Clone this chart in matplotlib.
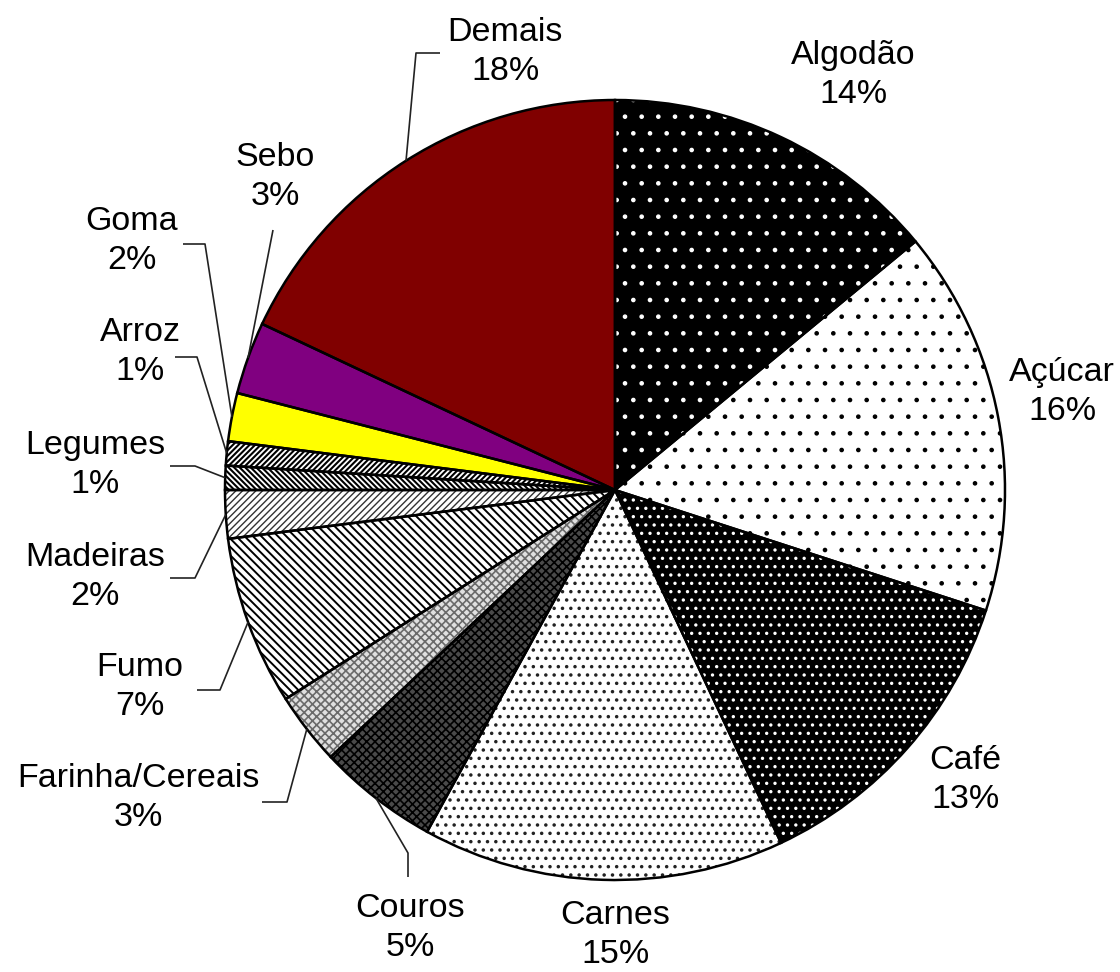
import matplotlib
matplotlib.use("Agg")
import matplotlib.pyplot as plt
import numpy as np

# Export shares (%)
categories = ["Algodão", "Açúcar", "Café", "Carnes", "Couros", "Farinha/Cereais",
              "Fumo", "Madeiras", "Legumes", "Arroz", "Goma", "Sebo", "Demais"]
shares = [14, 16, 13, 15, 5, 3, 7, 2, 1, 1, 2, 3, 18]

# Fill style per slice: face colour, hatch colour, hatch pattern, hatch width
styles = [
    ("black", "white", ".", 0.9),
    ("white", "black", ".", 0.9),
    ("black", "white", "..", 1.2),
    ("white", "#222222", "..", 1.3),
    ("#4a4a4a", "black", "xxxx", 1.2),
    ("#e0e0e0", "#6a6a6a", "xxxx", 1.2),
    ("white", "black", "\\\\\\\\", 1.4),
    ("white", "#333333", "/////", 1.0),
    ("white", "black", "\\\\\\\\\\\\", 1.5),
    ("white", "black", "//////", 1.5),
    ("#ffff00", "#ffff00", "", 1.0),
    ("#800080", "#800080", "", 1.0),
    ("#800000", "#800000", "", 1.0),
]

W, H = 1120, 972
CENTER = (615, 482)
RADIUS = 390

# label block centres
label_pos = {
    "Demais": (505, 920), "Algodão": (853, 897), "Açúcar": (1062, 580),
    "Café": (965, 192), "Carnes": (615, 37), "Couros": (410, 44),
    "Farinha/Cereais": (138, 174), "Fumo": (140, 285), "Madeiras": (95, 395),
    "Legumes": (95, 507), "Arroz": (140, 620), "Goma": (132, 731),
    "Sebo": (275, 795),
}
# leader lines: points from the label side; last point is added on the rim
leaders = {
    "Demais": [(440, 919), (416, 919)],
    "Sebo": [(273, 742)],
    "Goma": [(183, 728), (205, 728)],
    "Arroz": [(175, 615), (197, 615)],
    "Legumes": [(170, 506), (195, 506)],
    "Madeiras": [(170, 394), (195, 394)],
    "Fumo": [(197, 282), (220, 282)],
    "Farinha/Cereais": [(262, 170), (287, 170)],
    "Couros": [(408, 95), (408, 119)],
}

plt.rcParams["font.family"] = ["Liberation Sans", "DejaVu Sans"]

fig = plt.figure(figsize=(W / 100, H / 100), dpi=100)
ax = fig.add_axes([0, 0, 1, 1])

# filled / hatched slices
fills, _ = ax.pie(shares, startangle=90, counterclock=False, center=CENTER,
                  radius=RADIUS, wedgeprops=dict(linewidth=0))
for w, (fc, hc, hatch, hlw) in zip(fills, styles):
    w.set_facecolor(fc)
    w.set_edgecolor(hc)
    w.set_linewidth(0)
    if hatch:
        w.set_hatch(hatch)
        if hasattr(w, "set_hatch_linewidth"):
            w.set_hatch_linewidth(hlw)

# slice outlines
outlines, _ = ax.pie(shares, startangle=90, counterclock=False, center=CENTER,
                     radius=RADIUS,
                     wedgeprops=dict(facecolor="none", edgecolor="black",
                                     linewidth=1.8))

# labels and leader lines
for w, name, val in zip(fills, categories, shares):
    mid = np.deg2rad((w.theta1 + w.theta2) / 2)
    tx, ty = label_pos[name]
    ax.text(tx, ty, f"{name}\n{val}%", ha="center", va="center",
            multialignment="center", fontsize=24.5, linespacing=1.3,
            color="black")
    if name in leaders:
        rim = (CENTER[0] + RADIUS * np.cos(mid), CENTER[1] + RADIUS * np.sin(mid))
        pts = leaders[name] + [rim]
        xs, ys = zip(*pts)
        ax.plot(xs, ys, color="#222222", linewidth=1.2, solid_capstyle="butt")

ax.set_xlim(0, W)
ax.set_ylim(0, H)
ax.set_aspect("equal")
ax.axis("off")

fig.savefig("out.png", dpi=100, facecolor="white")
